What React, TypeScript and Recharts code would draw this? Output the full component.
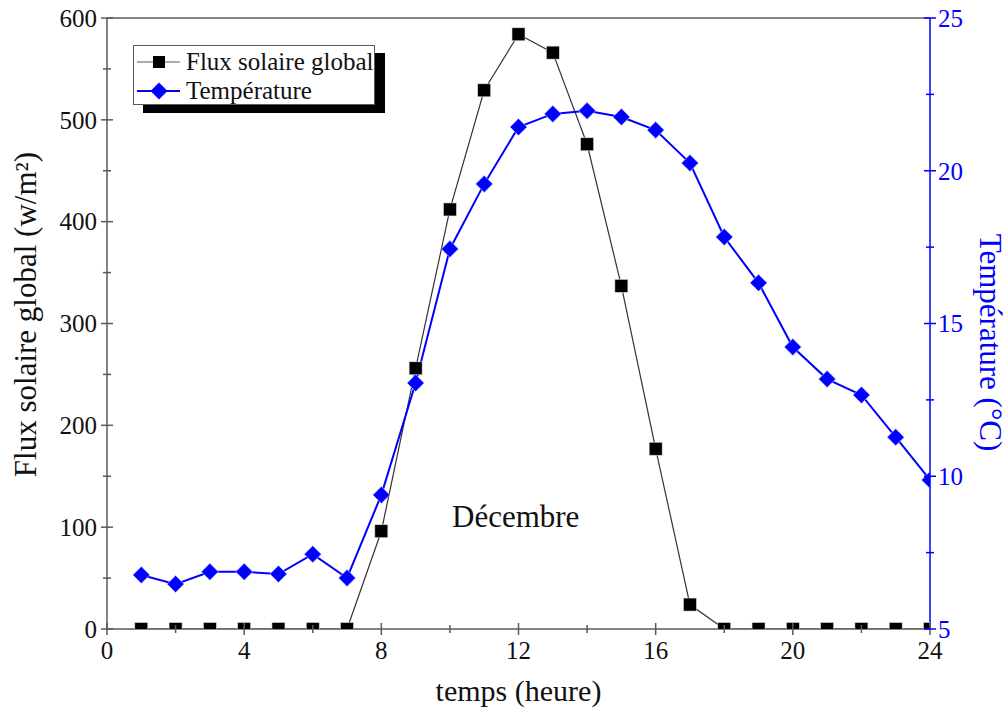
import React from 'react';
import { LineChart, Line, XAxis, YAxis, ReferenceLine, Legend } from 'recharts';

const hours = [1, 2, 3, 4, 5, 6, 7, 8, 9, 10, 11, 12, 13, 14, 15, 16, 17, 18, 19, 20, 21, 22, 23, 24];
const fluxSolaire = [0, 0, 0, 0, 0, 0, 0, 96, 256, 412, 529, 584, 566, 476, 337, 177, 24, 0, 0, 0, 0, 0, 0, 0];
const temperature = [6.77, 6.47, 6.87, 6.87, 6.8, 7.45, 6.67, 9.39, 13.05, 17.44, 19.57, 21.43, 21.86, 21.96, 21.76, 21.33, 20.25, 17.83, 16.33, 14.23, 13.18, 12.66, 11.28, 9.88];

const xTicks = [0, 2, 4, 6, 8, 10, 12, 14, 16, 18, 20, 22, 24];
const xLabels = [0, 4, 8, 12, 16, 20, 24];
const fluxTicks = [0, 50, 100, 150, 200, 250, 300, 350, 400, 450, 500, 550, 600];
const fluxLabels = [0, 100, 200, 300, 400, 500, 600];
const tempTicks = [5, 7.5, 10, 12.5, 15, 17.5, 20, 22.5, 25];
const tempLabels = [5, 10, 15, 20, 25];

const seriesNames = ['Flux solaire global', 'Température'];
const axisTitles = ['temps (heure)', 'Flux solaire global (w/m²)', 'Température (°C)'];
const annotation = 'Décembre';

const data = hours.map((h, i) => ({ h, flux: fluxSolaire[i], temp: temperature[i] }));

const FONT = '"Liberation Serif", "DejaVu Serif", serif';
const GRAY = '#5a5a5a';
const BLUE = '#0000ff';

const XTick = (props: any) => {
  const { x, y, payload } = props;
  const major = xLabels.includes(payload.value);
  const len = major ? 6 : 4;
  return (
    <g>
      <line x1={x} x2={x} y1={y - len} y2={y + len} stroke={GRAY} strokeWidth={1.5} />
      {major && (
        <text x={x} y={y + 30} textAnchor="middle" fontFamily={FONT} fontSize={25} fill="#111">
          {payload.value}
        </text>
      )}
    </g>
  );
};

const LeftTick = (props: any) => {
  const { x, y, payload } = props;
  const major = fluxLabels.includes(payload.value);
  const len = major ? 6 : 4;
  return (
    <g>
      <line x1={x - len} x2={x + len} y1={y} y2={y} stroke={GRAY} strokeWidth={1.5} />
      {major && (
        <text x={x - 10} y={y} dy="0.35em" textAnchor="end" fontFamily={FONT} fontSize={25} fill="#111">
          {payload.value}
        </text>
      )}
    </g>
  );
};

const RightTick = (props: any) => {
  const { x, y, payload } = props;
  const major = tempLabels.includes(payload.value);
  const len = major ? 6 : 4;
  return (
    <g>
      <line x1={x - len} x2={x + len} y1={y} y2={y} stroke={BLUE} strokeWidth={1.5} />
      {major && (
        <text x={x + 8} y={y} dy="0.35em" textAnchor="start" fontFamily={FONT} fontSize={25} fill={BLUE}>
          {payload.value}
        </text>
      )}
    </g>
  );
};

const SquareDot = (props: any) => {
  const { cx, cy, index } = props;
  if (cx == null || cy == null) return <g key={`s-${index}`} />;
  return <rect key={`s-${index}`} x={cx - 6.5} y={cy - 6.5} width={13} height={13} fill="#000" stroke="#ddd" strokeWidth={0.6} />;
};

const DiamondDot = (props: any) => {
  const { cx, cy, index } = props;
  if (cx == null || cy == null) return <g key={`d-${index}`} />;
  const r = 8.5;
  return (
    <polygon
      key={`d-${index}`}
      points={`${cx},${cy - r} ${cx + r},${cy} ${cx},${cy + r} ${cx - r},${cy}`}
      fill={BLUE}
      stroke="#c8c8ff"
      strokeWidth={0.6}
    />
  );
};

const LegendBox = () => (
  <div
    style={{
      position: 'relative',
      width: 242,
      height: 60,
      border: `1.5px solid ${GRAY}`,
      background: '#fff',
      boxShadow: '10px 8px 0 #000',
      fontFamily: FONT,
      fontSize: 25,
      color: '#111',
      boxSizing: 'border-box',
    }}
  >
    <svg width={52} height={60} style={{ position: 'absolute', left: 0, top: 0 }}>
      <line x1={3} x2={46} y1={16} y2={16} stroke={GRAY} strokeWidth={1.2} />
      <rect x={19} y={10} width={12} height={12} fill="#000" />
      <line x1={3} x2={46} y1={45} y2={45} stroke={BLUE} strokeWidth={2} />
      <polygon points="25,36.5 33.5,45 25,53.5 16.5,45" fill={BLUE} />
    </svg>
    <div style={{ position: 'absolute', left: 52, top: 1, lineHeight: '29px', whiteSpace: 'nowrap' }}>
      <div>{seriesNames[0]}</div>
      <div>{seriesNames[1]}</div>
    </div>
  </div>
);

const LeftTitle = (props: any) => {
  const vb = props.viewBox || {};
  const cx = 29;
  const cy = (vb.y ?? 18) + (vb.height ?? 611) / 2 - 9;
  return (
    <text x={cx} y={cy} transform={`rotate(-90, ${cx}, ${cy})`} textAnchor="middle" dominantBaseline="middle" fontFamily={FONT} fontSize={31} fill="#111">
      {axisTitles[1]}
    </text>
  );
};

const RightTitle = (props: any) => {
  const vb = props.viewBox || {};
  const cx = (vb.x ?? 930) + 57;
  const cy = (vb.y ?? 18) + (vb.height ?? 611) / 2 + 19;
  return (
    <text x={cx} y={cy} transform={`rotate(90, ${cx}, ${cy})`} textAnchor="middle" dominantBaseline="middle" fontFamily={FONT} fontSize={31} fill={BLUE}>
      {axisTitles[2]}
    </text>
  );
};

const BottomTitle = (props: any) => {
  const vb = props.viewBox || {};
  const cx = (vb.x ?? 107) + (vb.width ?? 823) / 2;
  const cy = (vb.y ?? 629) + 72;
  return (
    <text x={cx} y={cy} textAnchor="middle" fontFamily={FONT} fontSize={30} fill="#111">
      {axisTitles[0]}
    </text>
  );
};

export default function App() {
  return (
    <div style={{ position: 'absolute', left: 0, top: 0, width: 1008, height: 712, background: '#fff' }}>
      <LineChart width={1008} height={712} data={data} margin={{ top: 18, right: 0, bottom: 0, left: 0 }}>
        <XAxis
          dataKey="h"
          type="number"
          domain={[0, 24]}
          ticks={xTicks}
          allowDataOverflow
          height={83}
          tickSize={0}
          tickMargin={0}
          tickLine={false}
          axisLine={{ stroke: GRAY, strokeWidth: 1.5 }}
          tick={<XTick />}
          interval={0}
          label={<BottomTitle />}
        />
        <YAxis
          yAxisId="left"
          domain={[0, 600]}
          ticks={fluxTicks}
          allowDataOverflow
          width={107}
          tickSize={0}
          tickMargin={0}
          tickLine={false}
          axisLine={{ stroke: GRAY, strokeWidth: 1.5 }}
          tick={<LeftTick />}
          interval={0}
          label={<LeftTitle />}
        />
        <YAxis
          yAxisId="right"
          orientation="right"
          domain={[5, 25]}
          ticks={tempTicks}
          allowDataOverflow
          width={78}
          tickSize={0}
          tickMargin={0}
          tickLine={false}
          axisLine={{ stroke: BLUE, strokeWidth: 1.5 }}
          tick={<RightTick />}
          interval={0}
          label={<RightTitle />}
        />
        <ReferenceLine yAxisId="left" y={600} stroke={GRAY} strokeWidth={1.5} />
        <Legend
          layout="vertical"
          align="center"
          verticalAlign="middle"
          content={<LegendBox />}
          wrapperStyle={{ position: 'absolute', left: 133, top: 45, width: 255, height: 70 }}
        />
        <Line
          yAxisId="left"
          dataKey="flux"
          name={seriesNames[0]}
          stroke="#333"
          strokeWidth={1.2}
          dot={SquareDot}
          activeDot={false}
          isAnimationActive={false}
        />
        <Line
          yAxisId="right"
          dataKey="temp"
          name={seriesNames[1]}
          stroke={BLUE}
          strokeWidth={2}
          dot={DiamondDot}
          activeDot={false}
          isAnimationActive={false}
        />
      </LineChart>
      <div style={{ position: 'absolute', left: 452, top: 499, fontFamily: FONT, fontSize: 31, color: '#111', whiteSpace: 'nowrap' }}>
        {annotation}
      </div>
    </div>
  );
}
